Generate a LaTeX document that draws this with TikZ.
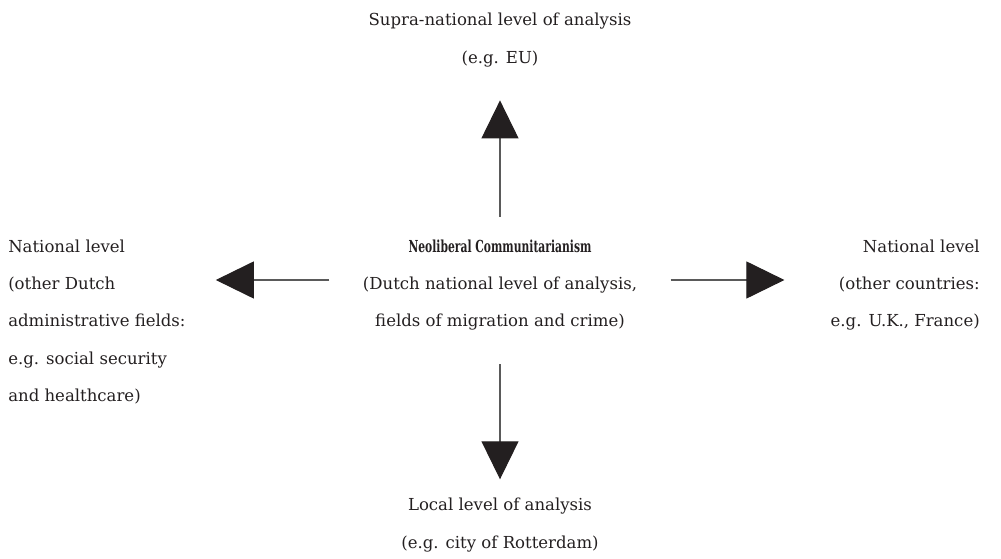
\documentclass[tikz,border=0pt]{standalone}
\usepackage{fontspec}
\usepackage{graphicx}
\setmainfont{DejaVu Serif}
\usetikzlibrary{arrows.meta}
\definecolor{ink}{HTML}{231F20}
\definecolor{shaft}{HTML}{5A5A5A}
\tikzset{
  lbl/.style={inner sep=0pt, text=ink, font=\fontsize{12.4}{28}\selectfont},
  arr/.style={draw=shaft, line width=0.8pt,
    -{Triangle[length=28.5pt, width=27.75pt, color=ink, fill=ink]}},
}
\begin{document}
\begin{tikzpicture}[x=0.75pt, y=-0.75pt]
\useasboundingbox (0,0) rectangle (1001,559);
\node[lbl, align=center] (top) at (500,40) {Supra-national level of analysis\\(e.g. EU)};
\node[lbl, align=center] (center) at (500,285) {\scalebox{0.65}[1]{\textbf{Neoliberal Communitarianism}}\\(Dutch national level of analysis,\\fields of migration and crime)};
\node[lbl, align=left, anchor=west] (left) at (8,322) {National level\\(other Dutch\\administrative fields:\\e.g. social security\\and healthcare)};
\node[lbl, align=right, anchor=east] (right) at (980,285) {National level\\(other countries:\\e.g. U.K., France)};
\node[lbl, align=center] (bottom) at (500,525) {Local level of analysis\\(e.g. city of Rotterdam)};
\draw[arr, shorten <=17pt, shorten >=25pt] (center.north) -- (top.south);
\draw[arr, shorten <=25pt, shorten >=14pt] (center.south) -- (bottom.north);
\draw[arr, shorten <=25pt, shorten >=22.5pt] ([yshift=3.75pt]center.west) -- ([yshift=3.75pt]center.west -| left.east);
\draw[arr, shorten <=25pt, shorten >=34.5pt] ([yshift=3.75pt]center.east) -- ([yshift=3.75pt]center.east -| right.west);
\end{tikzpicture}
\end{document}
